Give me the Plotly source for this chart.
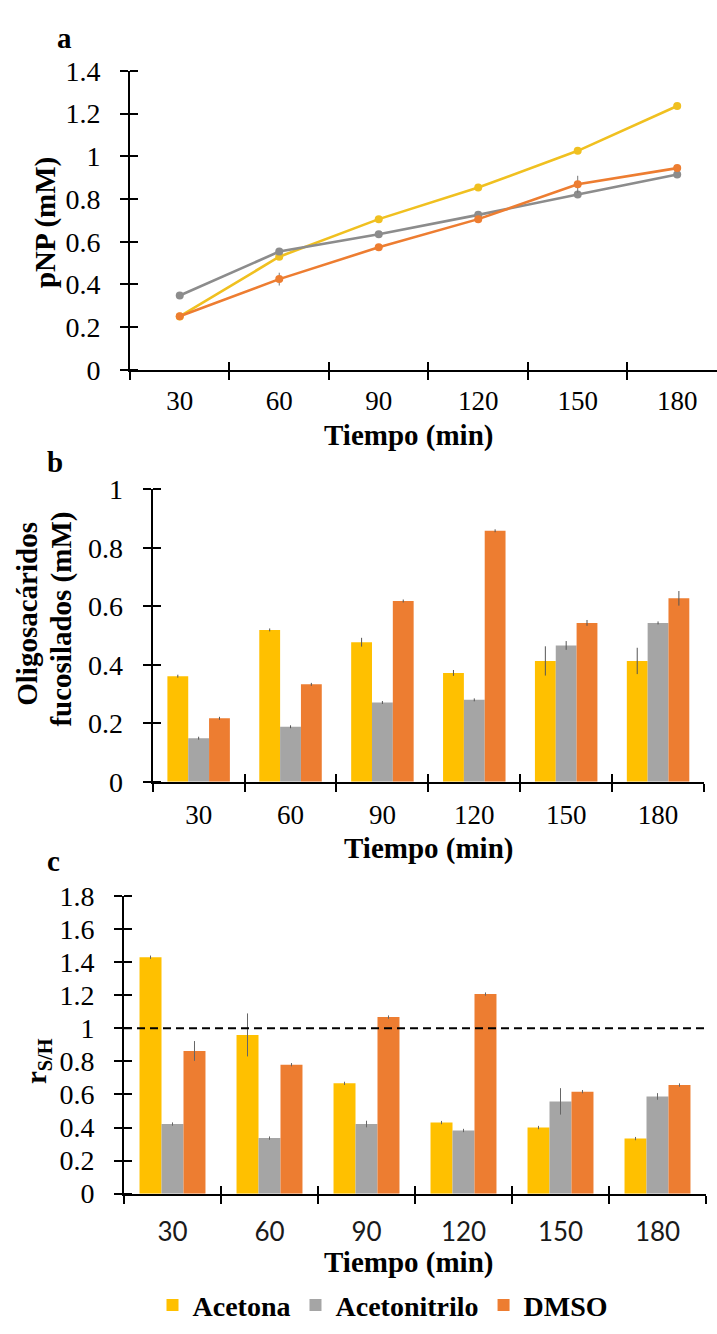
import plotly.graph_objects as go

W, H = 717, 1334

# ---------------- data ----------------
tiempo = ["30", "60", "90", "120", "150", "180"]
series = ["Acetona", "Acetonitrilo", "DMSO"]

# (a) pNP (mM)
pnp_acetona = [0.25, 0.53, 0.706, 0.854, 1.026, 1.236]
pnp_acetonitrilo = [0.348, 0.554, 0.635, 0.726, 0.821, 0.915]
pnp_dmso = [0.251, 0.425, 0.574, 0.706, 0.869, 0.945]
pnp_err_acetona = [0.005, 0.01, 0.01, 0.005, 0.01, 0.005]
pnp_err_acetonitrilo = [0.005, 0.01, 0.005, 0.01, 0.005, 0.01]
pnp_err_dmso = [0.005, 0.03, 0.01, 0.01, 0.04, 0.01]

# (b) Oligosacáridos fucosilados (mM)
ofs_acetona = [0.361, 0.519, 0.477, 0.372, 0.413, 0.413]
ofs_acetonitrilo = [0.149, 0.188, 0.271, 0.280, 0.466, 0.543]
ofs_dmso = [0.217, 0.333, 0.618, 0.858, 0.543, 0.627]
ofs_err_acetona = [0.005, 0.005, 0.015, 0.01, 0.05, 0.045]
ofs_err_acetonitrilo = [0.005, 0.005, 0.005, 0.005, 0.015, 0.005]
ofs_err_dmso = [0.005, 0.005, 0.005, 0.005, 0.01, 0.025]

# (c) r S/H
rsh_acetona = [1.430, 0.960, 0.667, 0.430, 0.400, 0.333]
rsh_acetonitrilo = [0.421, 0.336, 0.421, 0.382, 0.558, 0.588]
rsh_dmso = [0.863, 0.780, 1.068, 1.207, 0.617, 0.657]
rsh_err_acetona = [0.01, 0.13, 0.01, 0.01, 0.01, 0.01]
rsh_err_acetonitrilo = [0.01, 0.01, 0.02, 0.01, 0.08, 0.02]
rsh_err_dmso = [0.06, 0.01, 0.01, 0.01, 0.01, 0.01]
rsh_ref = 1.0

yticks_a = [0, 0.2, 0.4, 0.6, 0.8, 1.0, 1.2, 1.4]
yticks_b = [0, 0.2, 0.4, 0.6, 0.8, 1.0]
yticks_c = [0, 0.2, 0.4, 0.6, 0.8, 1.0, 1.2, 1.4, 1.6, 1.8]

# ---------------- style ----------------
bar_colors = ["#FFC000", "#A5A5A5", "#ED7D31"]
line_colors = ["#F0C020", "#8C8C8C", "#ED7D31"]
SERIF = "Liberation Serif"
SANS = "Lato"
BLACK = "#000000"


def px_x(p):
    return p / W


def px_y(p):
    return 1 - p / H


fig = go.Figure()

# panel a lines
for name, vals, err, col in zip(series,
                                [pnp_acetona, pnp_acetonitrilo, pnp_dmso],
                                [pnp_err_acetona, pnp_err_acetonitrilo, pnp_err_dmso],
                                line_colors):
    fig.add_trace(go.Scatter(
        x=tiempo, y=vals, name=name, mode="lines+markers",
        line=dict(color=col, width=2.6), marker=dict(color=col, size=8),
        error_y=dict(type="data", array=err, color="#777777", thickness=1, width=0),
        showlegend=False, xaxis="x", yaxis="y"))

# panel b bars
for name, vals, err, col in zip(series,
                                [ofs_acetona, ofs_acetonitrilo, ofs_dmso],
                                [ofs_err_acetona, ofs_err_acetonitrilo, ofs_err_dmso],
                                bar_colors):
    fig.add_trace(go.Bar(
        x=tiempo, y=vals, name=name, marker=dict(color=col, line=dict(width=0)),
        error_y=dict(type="data", array=err, color="#555555", thickness=1, width=0),
        showlegend=False, xaxis="x2", yaxis="y2"))

# panel c bars
for name, vals, err, col in zip(series,
                                [rsh_acetona, rsh_acetonitrilo, rsh_dmso],
                                [rsh_err_acetona, rsh_err_acetonitrilo, rsh_err_dmso],
                                bar_colors):
    fig.add_trace(go.Bar(
        x=tiempo, y=vals, name=name, marker=dict(color=col, line=dict(width=0)),
        error_y=dict(type="data", array=err, color="#666666", thickness=1, width=0),
        showlegend=True, xaxis="x3", yaxis="y3"))

# geometry (pixels)
panels = {
    "a": dict(x0=130, x1=717, y0=57.3, y1=363.3, xr=[-0.5, 5.4], yr=[0, 1.4],
              yt=yticks_a, xso=6),
    "b": dict(x0=152.7, x1=704, y0=485.5, y1=785, xr=[-0.5, 5.5], yr=[0, 1.0],
              yt=yticks_b, xso=8),
    "c": dict(x0=124, x1=706, y0=902, y1=1206.7, xr=[-0.5, 5.5], yr=[0, 1.8],
              yt=yticks_c, xso=14),
}

layout = dict(
    width=W, height=H, margin=dict(l=0, r=0, t=0, b=0),
    paper_bgcolor="white", plot_bgcolor="white",
    barmode="group", bargap=0.32, bargroupgap=0,
    font=dict(family=SERIF, color=BLACK),
)

ax_common = dict(showgrid=False, zeroline=False, showline=True, linecolor=BLACK,
                 linewidth=2, ticks="outside", ticklen=8, tickwidth=2, tickcolor=BLACK)

for i, key in enumerate(["a", "b", "c"], start=1):
    p = panels[key]
    sx = "" if i == 1 else str(i)
    xfont = dict(family=SANS if key == "c" else SERIF, size=26 if key == "c" else 27,
                 color="#1a1a1a" if key == "c" else BLACK)
    layout["xaxis" + sx] = dict(
        ax_common, type="category", domain=[px_x(p["x0"]), px_x(p["x1"])],
        range=p["xr"], anchor="y" + sx, tickson="boundaries",
        tickfont=xfont, ticklabelstandoff=p["xso"])
    layout["yaxis" + sx] = dict(
        ax_common, domain=[px_y(p["y1"]), px_y(p["y0"])], range=p["yr"],
        anchor="x" + sx, tickvals=p["yt"], tickfont=dict(family=SERIF, size=28),
        ticklabelstandoff=14,
        minor=dict(ticks="inside", ticklen=8, tickwidth=2, tickcolor=BLACK,
                   tickvals=[v + 1e-9 for v in p["yt"]]))
    # inner half of the crossing tick marks on x (overlay axis)
    ox = str(3 + i)
    layout["xaxis" + ox] = dict(
        overlaying="x" + sx, anchor="y" + sx, range=p["xr"], showgrid=False,
        zeroline=False, showline=False, ticks="inside", ticklen=8, tickwidth=2,
        tickcolor=BLACK, tickvals=[k - 0.5 for k in range(7)], showticklabels=False)
    fig.add_trace(go.Scatter(x=[None], y=[None], xaxis="x" + ox, yaxis="y" + sx,
                             mode="markers", showlegend=False, hoverinfo="skip"))

layout["legend"] = dict(
    orientation="h", x=px_x(383), xanchor="center", y=px_y(1321), yanchor="middle",
    font=dict(family=SERIF, size=28, color=BLACK, weight="bold"),
    bgcolor="rgba(0,0,0,0)", itemwidth=30, tracegroupgap=0, traceorder="normal")

fig.update_layout(**layout)

# dashed reference line r = 1
fig.add_shape(type="line", xref="x3 domain", x0=0, x1=1, yref="y3", y0=rsh_ref, y1=rsh_ref,
              line=dict(color=BLACK, width=2, dash="8px,5px"))

title_font = dict(family=SERIF, size=29, color=BLACK)
ann = [
    dict(text="<b>a</b>", x=55, y=24, xanchor="left"),
    dict(text="<b>b</b>", x=45, y=458, xanchor="left"),
    dict(text="<b>c</b>", x=45, y=866, xanchor="left"),
    dict(text="<b>Tiempo (min)</b>", x=408, y=431),
    dict(text="<b>Tiempo (min)</b>", x=429, y=853),
    dict(text="<b>Tiempo (min)</b>", x=408, y=1277),
    dict(text="<b>pNP (mM)</b>", x=45, y=213, textangle=-90),
    dict(text="<b>Oligosacáridos</b>", x=27, y=613, textangle=-90),
    dict(text="<b>fucosilados (mM)</b>", x=62, y=619, textangle=-90),
    dict(text="<b>r<sub>S/H</sub></b>", x=38, y=1071, textangle=-90),
]
for a in ann:
    fig.add_annotation(
        text=a["text"], xref="paper", yref="paper", x=px_x(a["x"]), y=px_y(a["y"]),
        xanchor=a.get("xanchor", "center"), yanchor="middle", showarrow=False,
        textangle=a.get("textangle", 0), font=title_font)

fig.write_html("out.html")
